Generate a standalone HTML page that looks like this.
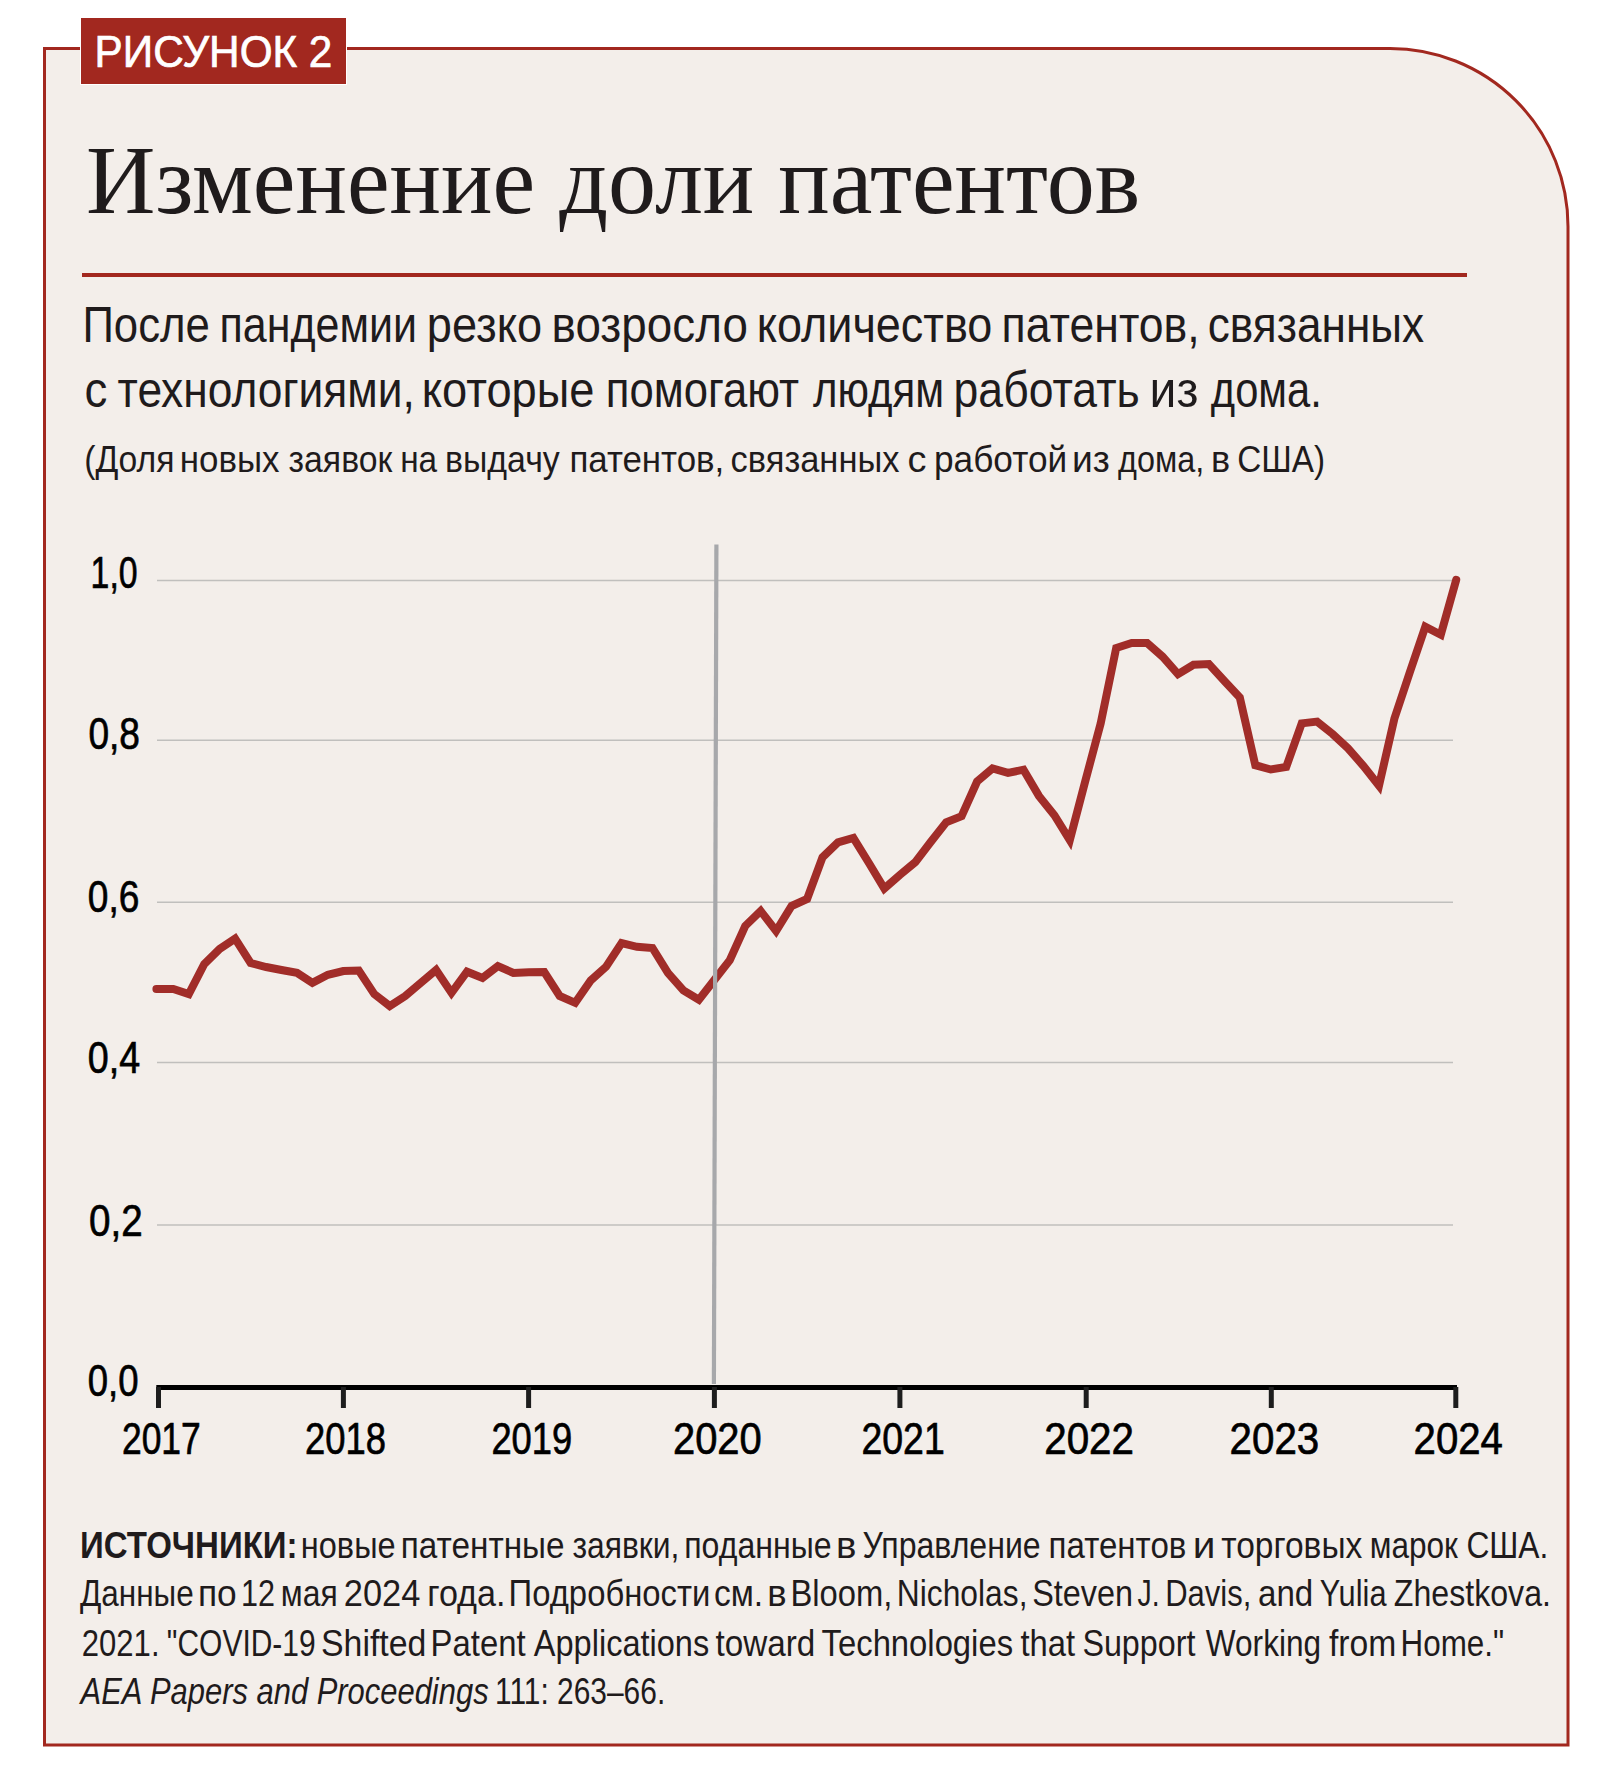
<!DOCTYPE html>
<html><head><meta charset="utf-8"><style>
html,body{margin:0;padding:0;background:#fff;width:1606px;height:1784px;overflow:hidden}
svg{display:block}
</style></head><body>
<svg width="1606" height="1784" viewBox="0 0 1606 1784">
<path d="M44.5,48.5 H1390 A178,178 0 0 1 1568,226.5 V1745 H44.5 Z" fill="#f3eeea" stroke="#a2281f" stroke-width="3"/>
<rect x="80" y="17" width="267" height="68" fill="#fff"/>
<rect x="81" y="18" width="265" height="66" fill="#a2281f"/>
<rect x="82" y="273" width="1385" height="4" fill="#a2281f"/>
<line x1="157" y1="580.4" x2="1453" y2="580.4" stroke="#c0bfbd" stroke-width="1.5"/>
<line x1="157" y1="740.3" x2="1453" y2="740.3" stroke="#c0bfbd" stroke-width="1.5"/>
<line x1="157" y1="902.3" x2="1453" y2="902.3" stroke="#c0bfbd" stroke-width="1.5"/>
<line x1="157" y1="1062.4" x2="1453" y2="1062.4" stroke="#c0bfbd" stroke-width="1.5"/>
<line x1="157" y1="1225.1" x2="1453" y2="1225.1" stroke="#c0bfbd" stroke-width="1.5"/>
<polyline points="156.4,989.0 173.3,989.0 188.8,994.1 204.2,964.2 219.7,948.9 235.1,938.7 250.6,963.0 266.1,967.0 281.5,970.0 297.0,972.9 312.4,982.9 327.9,974.8 343.3,971.0 358.8,970.5 374.3,994.1 389.7,1006.0 405.2,996.0 420.6,983.0 436.1,969.9 451.5,992.9 467.0,971.7 482.5,978.0 497.9,966.1 513.4,973.0 528.8,972.3 544.3,972.0 559.7,996.0 575.2,1002.8 590.7,980.4 606.1,966.7 621.6,943.0 637.0,946.8 652.5,948.0 667.9,972.9 683.4,990.4 698.9,999.7 714.3,980.0 729.8,960.2 745.2,926.0 760.7,911.0 776.1,931.0 791.6,906.0 807.1,899.0 822.5,857.3 838.0,842.3 853.4,837.9 868.9,863.0 884.3,888.5 899.8,875.0 915.3,862.2 930.7,842.0 946.2,822.3 961.6,816.2 977.1,781.5 992.5,768.5 1008.0,772.9 1023.5,769.7 1038.9,795.9 1054.4,815.2 1069.8,840.1 1085.3,781.0 1100.7,723.3 1116.2,648.0 1131.7,643.0 1147.1,643.0 1162.6,656.7 1178.0,674.1 1193.5,664.8 1208.9,664.1 1224.4,681.0 1239.8,697.5 1255.3,765.2 1270.8,769.5 1286.2,767.0 1301.7,723.4 1317.1,721.6 1332.6,734.0 1348.0,748.3 1363.5,766.0 1379.0,785.7 1394.4,718.5 1409.9,672.0 1425.3,626.7 1440.8,634.7 1456.2,579.9" fill="none" stroke="#a12d29" stroke-width="8" stroke-linejoin="miter" stroke-miterlimit="10" stroke-linecap="round"/>
<line x1="716.4" y1="544.4" x2="713.9" y2="1384" stroke="#a7a8ab" stroke-width="4.2"/>
<line x1="156.3" y1="1387.5" x2="1457" y2="1387.5" stroke="#000" stroke-width="5"/>
<line x1="158.5" y1="1387" x2="158.5" y2="1408" stroke="#1d1d1d" stroke-width="5"/>
<line x1="343.4" y1="1387" x2="343.4" y2="1408" stroke="#1d1d1d" stroke-width="5"/>
<line x1="528.6" y1="1387" x2="528.6" y2="1408" stroke="#1d1d1d" stroke-width="5"/>
<line x1="714.4" y1="1387" x2="714.4" y2="1408" stroke="#1d1d1d" stroke-width="5"/>
<line x1="899.9" y1="1387" x2="899.9" y2="1408" stroke="#1d1d1d" stroke-width="5"/>
<line x1="1086.2" y1="1387" x2="1086.2" y2="1408" stroke="#1d1d1d" stroke-width="5"/>
<line x1="1271.3" y1="1387" x2="1271.3" y2="1408" stroke="#1d1d1d" stroke-width="5"/>
<line x1="1455.8" y1="1387" x2="1455.8" y2="1408" stroke="#1d1d1d" stroke-width="5"/>
<text x="94.60" y="67.2" font-family="Liberation Sans" font-size="43.5" fill="#fff" textLength="237.78" lengthAdjust="spacingAndGlyphs" stroke="#fff" stroke-width="0.7">РИСУНОК 2</text>
<text x="86.00" y="213" font-family="Liberation Serif" font-size="98" fill="#1f1b1c" textLength="1054.24" lengthAdjust="spacingAndGlyphs">Изменение доли патентов</text>
<text x="82.40" y="342.3" font-family="Liberation Sans" font-size="49.5" fill="#1f1b1c" textLength="127.47" lengthAdjust="spacingAndGlyphs">После</text>
<text x="219.60" y="342.3" font-family="Liberation Sans" font-size="49.5" fill="#1f1b1c" textLength="197.44" lengthAdjust="spacingAndGlyphs">пандемии</text>
<text x="426.80" y="342.3" font-family="Liberation Sans" font-size="49.5" fill="#1f1b1c" textLength="115.25" lengthAdjust="spacingAndGlyphs">резко</text>
<text x="551.60" y="342.3" font-family="Liberation Sans" font-size="49.5" fill="#1f1b1c" textLength="196.34" lengthAdjust="spacingAndGlyphs">возросло</text>
<text x="756.80" y="342.3" font-family="Liberation Sans" font-size="49.5" fill="#1f1b1c" textLength="235.55" lengthAdjust="spacingAndGlyphs">количество</text>
<text x="1001.60" y="342.3" font-family="Liberation Sans" font-size="49.5" fill="#1f1b1c" textLength="198.10" lengthAdjust="spacingAndGlyphs">патентов,</text>
<text x="1207.80" y="342.3" font-family="Liberation Sans" font-size="49.5" fill="#1f1b1c" textLength="216.26" lengthAdjust="spacingAndGlyphs">связанных</text>
<text x="84.40" y="407.3" font-family="Liberation Sans" font-size="49.5" fill="#1f1b1c" textLength="22.83" lengthAdjust="spacingAndGlyphs">с</text>
<text x="117.60" y="407.3" font-family="Liberation Sans" font-size="49.5" fill="#1f1b1c" textLength="297.31" lengthAdjust="spacingAndGlyphs">технологиями,</text>
<text x="421.80" y="407.3" font-family="Liberation Sans" font-size="49.5" fill="#1f1b1c" textLength="172.61" lengthAdjust="spacingAndGlyphs">которые</text>
<text x="605.80" y="407.3" font-family="Liberation Sans" font-size="49.5" fill="#1f1b1c" textLength="193.30" lengthAdjust="spacingAndGlyphs">помогают</text>
<text x="813.00" y="407.3" font-family="Liberation Sans" font-size="49.5" fill="#1f1b1c" textLength="131.13" lengthAdjust="spacingAndGlyphs">людям</text>
<text x="953.60" y="407.3" font-family="Liberation Sans" font-size="49.5" fill="#1f1b1c" textLength="186.14" lengthAdjust="spacingAndGlyphs">работать</text>
<text x="1149.60" y="407.3" font-family="Liberation Sans" font-size="49.5" fill="#1f1b1c" textLength="48.89" lengthAdjust="spacingAndGlyphs">из</text>
<text x="1210.80" y="407.3" font-family="Liberation Sans" font-size="49.5" fill="#1f1b1c" textLength="110.99" lengthAdjust="spacingAndGlyphs">дома.</text>
<text x="90.60" y="588.3" font-family="Liberation Sans" font-size="44.5" fill="#000" textLength="47.00" lengthAdjust="spacingAndGlyphs" stroke="#000" stroke-width="0.7">1,0</text>
<text x="88.40" y="749" font-family="Liberation Sans" font-size="44.5" fill="#000" textLength="51.57" lengthAdjust="spacingAndGlyphs" stroke="#000" stroke-width="0.7">0,8</text>
<text x="87.80" y="912.2" font-family="Liberation Sans" font-size="44.5" fill="#000" textLength="51.56" lengthAdjust="spacingAndGlyphs" stroke="#000" stroke-width="0.7">0,6</text>
<text x="87.80" y="1073.4" font-family="Liberation Sans" font-size="44.5" fill="#000" textLength="52.30" lengthAdjust="spacingAndGlyphs" stroke="#000" stroke-width="0.7">0,4</text>
<text x="89.00" y="1235.8" font-family="Liberation Sans" font-size="44.5" fill="#000" textLength="53.64" lengthAdjust="spacingAndGlyphs" stroke="#000" stroke-width="0.7">0,2</text>
<text x="87.80" y="1396.4" font-family="Liberation Sans" font-size="44.5" fill="#000" textLength="50.74" lengthAdjust="spacingAndGlyphs" stroke="#000" stroke-width="0.7">0,0</text>
<text x="122.00" y="1454" font-family="Liberation Sans" font-size="44.5" fill="#000" textLength="78.75" lengthAdjust="spacingAndGlyphs" stroke="#000" stroke-width="0.7">2017</text>
<text x="305.00" y="1454" font-family="Liberation Sans" font-size="44.5" fill="#000" textLength="80.96" lengthAdjust="spacingAndGlyphs" stroke="#000" stroke-width="0.7">2018</text>
<text x="491.40" y="1454" font-family="Liberation Sans" font-size="44.5" fill="#000" textLength="80.82" lengthAdjust="spacingAndGlyphs" stroke="#000" stroke-width="0.7">2019</text>
<text x="673.00" y="1454" font-family="Liberation Sans" font-size="44.5" fill="#000" textLength="88.71" lengthAdjust="spacingAndGlyphs" stroke="#000" stroke-width="0.7">2020</text>
<text x="861.40" y="1454" font-family="Liberation Sans" font-size="44.5" fill="#000" textLength="83.37" lengthAdjust="spacingAndGlyphs" stroke="#000" stroke-width="0.7">2021</text>
<text x="1044.20" y="1454" font-family="Liberation Sans" font-size="44.5" fill="#000" textLength="89.79" lengthAdjust="spacingAndGlyphs" stroke="#000" stroke-width="0.7">2022</text>
<text x="1229.60" y="1454" font-family="Liberation Sans" font-size="44.5" fill="#000" textLength="89.62" lengthAdjust="spacingAndGlyphs" stroke="#000" stroke-width="0.7">2023</text>
<text x="1413.60" y="1454" font-family="Liberation Sans" font-size="44.5" fill="#000" textLength="89.32" lengthAdjust="spacingAndGlyphs" stroke="#000" stroke-width="0.7">2024</text>
<text x="80.00" y="1558.3" font-family="Liberation Sans" font-size="37" fill="#1f1b1c" textLength="217.59" lengthAdjust="spacingAndGlyphs" font-weight="bold">ИСТОЧНИКИ:</text>
<text x="84.20" y="472.1" font-family="Liberation Sans" font-size="36" fill="#1f1b1c" textLength="90.31" lengthAdjust="spacingAndGlyphs">(Доля</text>
<text x="179.80" y="472.1" font-family="Liberation Sans" font-size="36" fill="#1f1b1c" textLength="99.76" lengthAdjust="spacingAndGlyphs">новых</text>
<text x="288.60" y="472.1" font-family="Liberation Sans" font-size="36" fill="#1f1b1c" textLength="103.63" lengthAdjust="spacingAndGlyphs">заявок</text>
<text x="400.20" y="472.1" font-family="Liberation Sans" font-size="36" fill="#1f1b1c" textLength="36.98" lengthAdjust="spacingAndGlyphs">на</text>
<text x="445.00" y="472.1" font-family="Liberation Sans" font-size="36" fill="#1f1b1c" textLength="114.74" lengthAdjust="spacingAndGlyphs">выдачу</text>
<text x="569.40" y="472.1" font-family="Liberation Sans" font-size="36" fill="#1f1b1c" textLength="154.88" lengthAdjust="spacingAndGlyphs">патентов,</text>
<text x="730.60" y="472.1" font-family="Liberation Sans" font-size="36" fill="#1f1b1c" textLength="168.85" lengthAdjust="spacingAndGlyphs">связанных</text>
<text x="907.60" y="472.1" font-family="Liberation Sans" font-size="36" fill="#1f1b1c" textLength="18.98" lengthAdjust="spacingAndGlyphs">с</text>
<text x="934.00" y="472.1" font-family="Liberation Sans" font-size="36" fill="#1f1b1c" textLength="133.21" lengthAdjust="spacingAndGlyphs">работой</text>
<text x="1072.00" y="472.1" font-family="Liberation Sans" font-size="36" fill="#1f1b1c" textLength="37.79" lengthAdjust="spacingAndGlyphs">из</text>
<text x="1118.00" y="472.1" font-family="Liberation Sans" font-size="36" fill="#1f1b1c" textLength="86.21" lengthAdjust="spacingAndGlyphs">дома,</text>
<text x="1211.00" y="472.1" font-family="Liberation Sans" font-size="36" fill="#1f1b1c" textLength="19.14" lengthAdjust="spacingAndGlyphs">в</text>
<text x="1237.20" y="472.1" font-family="Liberation Sans" font-size="36" fill="#1f1b1c" textLength="87.90" lengthAdjust="spacingAndGlyphs">США)</text>
<text x="300.80" y="1558.3" font-family="Liberation Sans" font-size="37" fill="#1f1b1c" textLength="94.82" lengthAdjust="spacingAndGlyphs">новые</text>
<text x="400.80" y="1558.3" font-family="Liberation Sans" font-size="37" fill="#1f1b1c" textLength="163.72" lengthAdjust="spacingAndGlyphs">патентные</text>
<text x="572.40" y="1558.3" font-family="Liberation Sans" font-size="37" fill="#1f1b1c" textLength="107.00" lengthAdjust="spacingAndGlyphs">заявки,</text>
<text x="684.20" y="1558.3" font-family="Liberation Sans" font-size="37" fill="#1f1b1c" textLength="147.32" lengthAdjust="spacingAndGlyphs">поданные</text>
<text x="836.00" y="1558.3" font-family="Liberation Sans" font-size="37" fill="#1f1b1c" textLength="20.45" lengthAdjust="spacingAndGlyphs">в</text>
<text x="862.40" y="1558.3" font-family="Liberation Sans" font-size="37" fill="#1f1b1c" textLength="178.26" lengthAdjust="spacingAndGlyphs">Управление</text>
<text x="1048.60" y="1558.3" font-family="Liberation Sans" font-size="37" fill="#1f1b1c" textLength="137.75" lengthAdjust="spacingAndGlyphs">патентов</text>
<text x="1192.80" y="1558.3" font-family="Liberation Sans" font-size="37" fill="#1f1b1c" textLength="22.71" lengthAdjust="spacingAndGlyphs">и</text>
<text x="1221.20" y="1558.3" font-family="Liberation Sans" font-size="37" fill="#1f1b1c" textLength="141.04" lengthAdjust="spacingAndGlyphs">торговых</text>
<text x="1369.80" y="1558.3" font-family="Liberation Sans" font-size="37" fill="#1f1b1c" textLength="88.11" lengthAdjust="spacingAndGlyphs">марок</text>
<text x="1466.40" y="1558.3" font-family="Liberation Sans" font-size="37" fill="#1f1b1c" textLength="81.93" lengthAdjust="spacingAndGlyphs">США.</text>
<text x="80.00" y="1606.3" font-family="Liberation Sans" font-size="37" fill="#1f1b1c" textLength="113.65" lengthAdjust="spacingAndGlyphs">Данные</text>
<text x="198.00" y="1606.3" font-family="Liberation Sans" font-size="37" fill="#1f1b1c" textLength="38.77" lengthAdjust="spacingAndGlyphs">по</text>
<text x="241.00" y="1606.3" font-family="Liberation Sans" font-size="37" fill="#1f1b1c" textLength="33.95" lengthAdjust="spacingAndGlyphs">12</text>
<text x="280.80" y="1606.3" font-family="Liberation Sans" font-size="37" fill="#1f1b1c" textLength="56.88" lengthAdjust="spacingAndGlyphs">мая</text>
<text x="343.80" y="1606.3" font-family="Liberation Sans" font-size="37" fill="#1f1b1c" textLength="76.57" lengthAdjust="spacingAndGlyphs">2024</text>
<text x="427.20" y="1606.3" font-family="Liberation Sans" font-size="37" fill="#1f1b1c" textLength="78.33" lengthAdjust="spacingAndGlyphs">года.</text>
<text x="508.60" y="1606.3" font-family="Liberation Sans" font-size="37" fill="#1f1b1c" textLength="201.75" lengthAdjust="spacingAndGlyphs">Подробности</text>
<text x="714.00" y="1606.3" font-family="Liberation Sans" font-size="37" fill="#1f1b1c" textLength="49.19" lengthAdjust="spacingAndGlyphs">см.</text>
<text x="767.20" y="1606.3" font-family="Liberation Sans" font-size="37" fill="#1f1b1c" textLength="19.36" lengthAdjust="spacingAndGlyphs">в</text>
<text x="790.40" y="1606.3" font-family="Liberation Sans" font-size="37" fill="#1f1b1c" textLength="101.97" lengthAdjust="spacingAndGlyphs">Bloom,</text>
<text x="896.80" y="1606.3" font-family="Liberation Sans" font-size="37" fill="#1f1b1c" textLength="130.68" lengthAdjust="spacingAndGlyphs">Nicholas,</text>
<text x="1032.20" y="1606.3" font-family="Liberation Sans" font-size="37" fill="#1f1b1c" textLength="100.85" lengthAdjust="spacingAndGlyphs">Steven</text>
<text x="1137.60" y="1606.3" font-family="Liberation Sans" font-size="37" fill="#1f1b1c" textLength="22.13" lengthAdjust="spacingAndGlyphs">J.</text>
<text x="1165.20" y="1606.3" font-family="Liberation Sans" font-size="37" fill="#1f1b1c" textLength="86.19" lengthAdjust="spacingAndGlyphs">Davis,</text>
<text x="1258.00" y="1606.3" font-family="Liberation Sans" font-size="37" fill="#1f1b1c" textLength="55.26" lengthAdjust="spacingAndGlyphs">and</text>
<text x="1319.80" y="1606.3" font-family="Liberation Sans" font-size="37" fill="#1f1b1c" textLength="66.69" lengthAdjust="spacingAndGlyphs">Yulia</text>
<text x="1393.80" y="1606.3" font-family="Liberation Sans" font-size="37" fill="#1f1b1c" textLength="157.17" lengthAdjust="spacingAndGlyphs">Zhestkova.</text>
<text x="81.80" y="1655.5" font-family="Liberation Sans" font-size="37" fill="#1f1b1c" textLength="77.73" lengthAdjust="spacingAndGlyphs">2021.</text>
<text x="166.80" y="1655.5" font-family="Liberation Sans" font-size="37" fill="#1f1b1c" textLength="148.88" lengthAdjust="spacingAndGlyphs">"COVID-19</text>
<text x="321.00" y="1655.5" font-family="Liberation Sans" font-size="37" fill="#1f1b1c" textLength="105.38" lengthAdjust="spacingAndGlyphs">Shifted</text>
<text x="430.60" y="1655.5" font-family="Liberation Sans" font-size="37" fill="#1f1b1c" textLength="94.98" lengthAdjust="spacingAndGlyphs">Patent</text>
<text x="533.80" y="1655.5" font-family="Liberation Sans" font-size="37" fill="#1f1b1c" textLength="175.43" lengthAdjust="spacingAndGlyphs">Applications</text>
<text x="715.60" y="1655.5" font-family="Liberation Sans" font-size="37" fill="#1f1b1c" textLength="99.76" lengthAdjust="spacingAndGlyphs">toward</text>
<text x="821.60" y="1655.5" font-family="Liberation Sans" font-size="37" fill="#1f1b1c" textLength="191.44" lengthAdjust="spacingAndGlyphs">Technologies</text>
<text x="1020.40" y="1655.5" font-family="Liberation Sans" font-size="37" fill="#1f1b1c" textLength="54.64" lengthAdjust="spacingAndGlyphs">that</text>
<text x="1082.40" y="1655.5" font-family="Liberation Sans" font-size="37" fill="#1f1b1c" textLength="113.06" lengthAdjust="spacingAndGlyphs">Support</text>
<text x="1205.80" y="1655.5" font-family="Liberation Sans" font-size="37" fill="#1f1b1c" textLength="115.29" lengthAdjust="spacingAndGlyphs">Working</text>
<text x="1329.00" y="1655.5" font-family="Liberation Sans" font-size="37" fill="#1f1b1c" textLength="67.36" lengthAdjust="spacingAndGlyphs">from</text>
<text x="1400.60" y="1655.5" font-family="Liberation Sans" font-size="37" fill="#1f1b1c" textLength="103.60" lengthAdjust="spacingAndGlyphs">Home."</text>
<text x="80.60" y="1703.5" font-family="Liberation Sans" font-size="37" fill="#1f1b1c" textLength="408.00" lengthAdjust="spacingAndGlyphs" font-style="italic">AEA Papers and Proceedings</text>
<text x="495.00" y="1703.5" font-family="Liberation Sans" font-size="37" fill="#1f1b1c" textLength="170.19" lengthAdjust="spacingAndGlyphs">111: 263–66.</text>
</svg>
</body></html>
